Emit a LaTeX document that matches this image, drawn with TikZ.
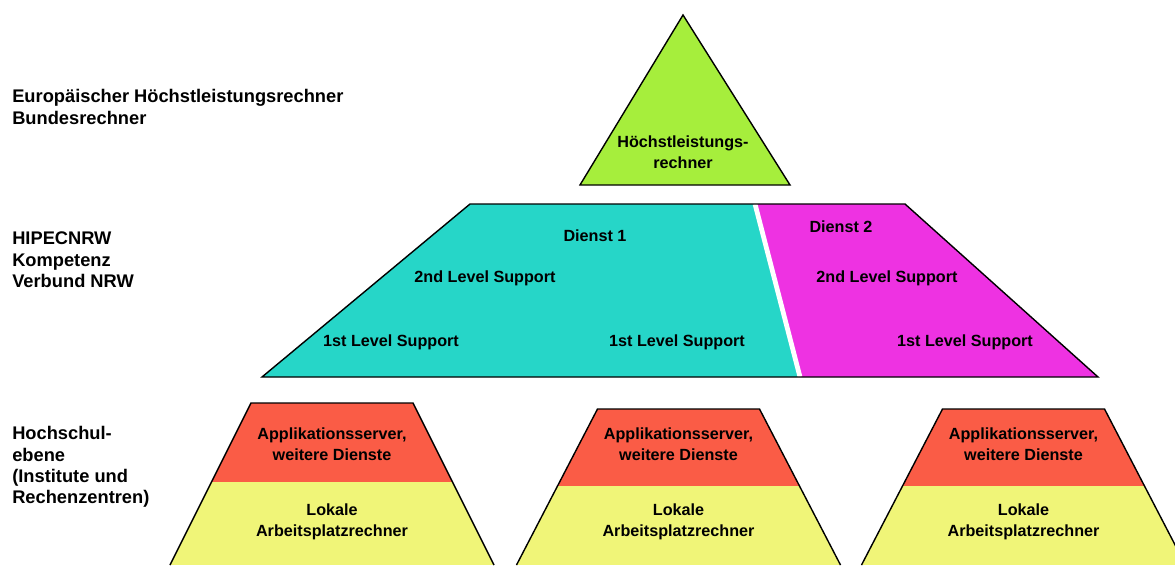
\documentclass[tikz,border=0pt]{standalone}
\usepackage{fontspec}
\setmainfont{Liberation Sans}
\usepackage{tikz}

\definecolor{spitze}{RGB}{166,238,60}
\definecolor{dienstA}{RGB}{38,214,200}
\definecolor{dienstB}{RGB}{238,50,226}
\definecolor{server}{RGB}{250,92,70}
\definecolor{lokal}{RGB}{240,245,120}

\begin{document}
\begin{tikzpicture}[x=0.025cm,y=-0.025cm,
    lbl/.style={font=\fontsize{13}{15.2}\selectfont\bfseries,align=left,anchor=west,inner sep=0pt},
    txt/.style={font=\fontsize{11.5}{15}\selectfont\bfseries,align=center,inner sep=0pt},
    rand/.style={draw=black,line width=1pt,line join=miter}]
  \useasboundingbox (0,0) rectangle (1175,565);

  % Ebenen links
  \node[lbl] (eu) at (12,107) {Europäischer Höchstleistungsrechner\\Bundesrechner};
  \node[lbl] (nrw) at (12,260) {HIPECNRW\\Kompetenz\\Verbund NRW};
  \node[lbl] (hs) at (12,467) {Hochschul-\\ebene\\(Institute und\\Rechenzentren)};

  % Spitze
  \filldraw[rand,fill=spitze] (683,15) -- (790,185) -- (580,185) -- cycle;
  \node[txt] (hlr) at (683,152) {Höchstleistungs-\\rechner};

  % Verbund
  \fill[dienstA] (470,204) -- (755,204) -- (800,377) -- (262,377) -- cycle;
  \fill[dienstB] (755,204) -- (905,204) -- (1098,377) -- (800,377) -- cycle;
  \draw[white,line width=3.4pt] (755,204) -- (800,377);
  \draw[rand] (470,204) -- (905,204) -- (1098,377) -- (262,377) -- cycle;

  \node[txt] (d1) at (595,236) {Dienst 1};
  \node[txt] (d1two) at (485,278) {2nd Level Support};
  \node[txt] (d1onea) at (391,342) {1st Level Support};
  \node[txt] (d1oneb) at (677,342) {1st Level Support};
  \node[txt] (d2) at (841,227) {Dienst 2};
  \node[txt] (d2two) at (887,278) {2nd Level Support};
  \node[txt] (d2one) at (965,342) {1st Level Support};

  % Hochschulen
  \foreach \cx/\ty/\my [count=\i] in {332/403/482, 678.5/409/486, 1023.5/409/486} {
    \begin{scope}
      \clip (\cx-81,\ty) -- (\cx+81,\ty) -- (\cx+162,565) -- (\cx-162,565) -- cycle;
      \fill[lokal] (\cx-170,\ty) rectangle (\cx+170,565);
      \fill[server] (\cx-170,\ty) rectangle (\cx+170,\my);
    \end{scope}
    \draw[rand] (\cx-162,565) -- (\cx-81,\ty) -- (\cx+81,\ty) -- (\cx+162,565);
    \node[txt] (app\i) at (\cx,444) {Applikationsserver,\\weitere Dienste};
    \node[txt] (lok\i) at (\cx,522) {Lokale\\Arbeitsplatzrechner};
  }
\end{tikzpicture}
\end{document}
